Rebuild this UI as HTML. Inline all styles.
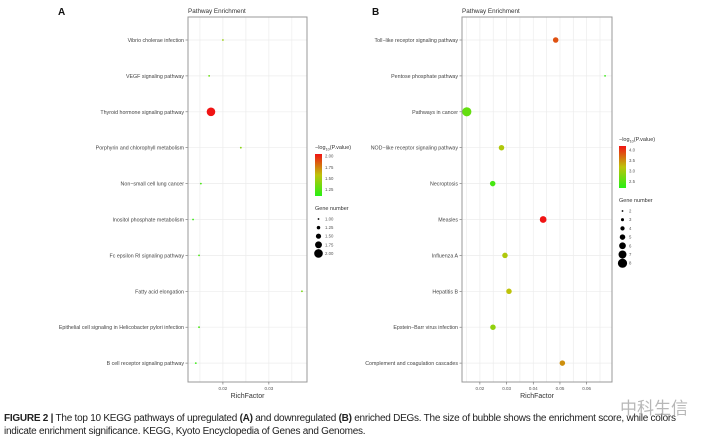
<!DOCTYPE html>
<html><head><meta charset="utf-8">
<style>
body{margin:0;background:#fff;width:710px;height:444px;overflow:hidden;font-family:"Liberation Sans","Noto Sans CJK SC",sans-serif}
svg{position:absolute;left:0;top:0}
.cap{position:absolute;left:4px;top:412px;width:704px;font-size:10px;line-height:13px;color:#222;letter-spacing:-0.25px}
</style></head><body>
<svg id="chart" width="710" height="444"></svg>
<div class="cap"><b>FIGURE 2 |</b> The top 10 KEGG pathways of upregulated <b>(A)</b> and downregulated <b>(B)</b> enriched DEGs. The size of bubble shows the enrichment score, while colors indicate enrichment significance. KEGG, Kyoto Encyclopedia of Genes and Genomes.</div>
<div style="position:absolute;left:620px;top:394px;font-size:17px;color:#9a9a9a;opacity:.7">中科生信</div>
<script>
const catsA=["Vibrio cholerae infection","VEGF signaling pathway","Thyroid hormone signaling pathway","Porphyrin and chlorophyll metabolism","Non−small cell lung cancer","Inositol phosphate metabolism","Fc epsilon RI signaling pathway","Fatty acid elongation","Epithelial cell signaling in Helicobacter pylori infection","B cell receptor signaling pathway"];
const richA=[0.0200,0.0170,0.0174,0.0239,0.0152,0.0135,0.0148,0.0372,0.0148,0.0141];
const pA=[1.45,1.3,2.05,1.4,1.2,1.15,1.2,1.35,1.2,1.15];
const genesA=[1,1,2,1,1,1,1,1,1,1];
const ticksA=[0.02,0.03];
const colTicksA=[2.00,1.75,1.50,1.25];
const sizeTicksA=[1.00,1.25,1.50,1.75,2.00];

const catsB=["Toll−like receptor signaling pathway","Pentose phosphate pathway","Pathways in cancer","NOD−like receptor signaling pathway","Necroptosis","Measles","Influenza A","Hepatitis B","Epstein−Barr virus infection","Complement and coagulation cascades"];
const richB=[0.0484,0.0669,0.0151,0.0281,0.0248,0.0437,0.0294,0.0309,0.0249,0.0509];
const pB=[3.85,2.3,2.6,3.1,2.4,4.2,3.1,3.2,2.9,3.5];
const genesB=[5,2,8,5,5,6,5,5,5,5];
const ticksB=[0.02,0.03,0.04,0.05,0.06];
const colTicksB=[4.0,3.5,3.0,2.5];
const sizeTicksB=[2,3,4,5,6,7,8];

const NS="http://www.w3.org/2000/svg";
const svg=document.getElementById('chart');
function mk(tag,attrs,parent){const e=document.createElementNS(NS,tag);for(const k in attrs)e.setAttribute(k,attrs[k]);(parent||svg).appendChild(e);return e;}
function txt(s,x,y,size,anchor,parent,fill){const t=mk('text',{x:x,y:y,'font-size':size,'text-anchor':anchor||'start',fill:fill||'#444','font-family':'Liberation Sans, sans-serif'},parent);t.textContent=s;return t;}
function lerp(a,b,t){return Math.round(a+(b-a)*t);}
function colorOf(v,lo,hi){let t=Math.max(0,Math.min(1,(v-lo)/(hi-lo)));
  if(t<0.5){const u=t/0.5;return `rgb(${lerp(40,190,u)},${lerp(240,195,u)},${lerp(20,10,u)})`;}
  const u=(t-0.5)/0.5;return `rgb(${lerp(190,240,u)},${lerp(195,20,u)},${lerp(10,20,u)})`;}

function panel(cfg){
  const g=mk('g',{});
  
  
  const L=cfg.x0,R=cfg.x1,T=17,B=382;
  const xs=v=>L+(v-cfg.dmin)/(cfg.dmax-cfg.dmin)*(R-L);
  const ys=i=>40+i*35.9;
  const rs=n=>cfg.rmin+(n-cfg.smin)/(cfg.smax-cfg.smin)*(cfg.rmax-cfg.rmin);
  const lbl=txt(cfg.letter,cfg.letterX,15,10,'start',g,'#111');lbl.setAttribute('font-weight','bold');
  
  const tt=txt('Pathway Enrichment',L,13,6.3,'start',g,'#333');
  
  const step=cfg.ticks[1]-cfg.ticks[0];
  for(let v=cfg.ticks[0]-step*1.5;v<cfg.dmax;v+=step/2){if(v<cfg.dmin)continue;
    const gl=mk('line',{x1:xs(v),x2:xs(v),y1:T,y2:B,stroke:'#ececec','stroke-width':0.7},g);
    }
  cfg.cats.forEach((c,i)=>{
    const gl=mk('line',{x1:L,x2:R,y1:ys(i),y2:ys(i),stroke:'#ececec','stroke-width':0.7},g);
    
    const t=txt(c,L-4,ys(i)+2,5.3,'end',g,'#444');
    
    mk('line',{x1:L-2.5,x2:L,y1:ys(i),y2:ys(i),stroke:'#666','stroke-width':0.6},g);
  });
  const box=mk('rect',{x:L,y:T,width:R-L,height:B-T,fill:'none',stroke:'#999','stroke-width':1},g);
  
  cfg.ticks.forEach(v=>{
    mk('line',{x1:xs(v),x2:xs(v),y1:B,y2:B+2.5,stroke:'#666','stroke-width':0.6},g);
    const t=txt(v.toFixed(2),xs(v),B+8,4.5,'middle',g,'#555');
    
  });
  const xt=txt('RichFactor',(L+R)/2,B+16,7,'middle',g,'#333');
  
  cfg.rich.forEach((v,i)=>{
    const c=mk('circle',{cx:xs(v),cy:ys(i),r:rs(cfg.genes[i]),fill:colorOf(cfg.p[i],cfg.cmin,cfg.cmax)},g);
    
    
  });
  const lx=cfg.lx,ly=cfg.ly;
  const lt=txt('−log',lx,ly,5.5,'start',g,'#333');
  
  const ts=mk('tspan',{'font-size':3.8,dy:1.5},lt);ts.textContent='10';
  const ts2=mk('tspan',{dy:-1.5},lt);ts2.textContent='(P.value)';
  const gid='grad'+cfg.letter;
  const defs=mk('defs',{},g);const gr=mk('linearGradient',{id:gid,x1:0,y1:1,x2:0,y2:0},defs);
  for(let k=0;k<=10;k++){mk('stop',{offset:k/10,'stop-color':colorOf(cfg.cbarLo+(cfg.cbarHi-cfg.cbarLo)*k/10,cfg.cmin,cfg.cmax)},gr);}
  const bar=mk('rect',{x:lx,y:ly+5,width:7,height:cfg.barH,fill:`url(#${gid})`},g);
  
  const by=v=>ly+5+cfg.barH*(1-(v-cfg.cbarLo)/(cfg.cbarHi-cfg.cbarLo));
  cfg.colTicks.forEach(v=>{
    const t=txt(v.toFixed(cfg.colDec),lx+10,by(v)+1.5,4.3,'start',g,'#555');
    
  });
  const gy=ly+cfg.barH+19;
  const st=txt('Gene number',lx,gy,5.5,'start',g,'#333');
  
  cfg.sizeTicks.forEach((n,k)=>{
    const yy=gy+9+k*cfg.sizeStep;
    const c=mk('circle',{cx:lx+3.5,cy:yy,r:rs(n),fill:'#000'},g);
    
    const t=txt(cfg.sizeDec?n.toFixed(2):String(n),lx+10,yy+1.5,4.3,'start',g,'#555');
    
  });
}
panel({name:'panel-a-upregulated',letter:'A',letterX:58,x0:188,x1:307,dmin:0.0124,dmax:0.0383,cats:catsA,rich:richA,p:pA,genes:genesA,ticks:ticksA,
  rmin:0.9,rmax:4.3,smin:1,smax:2,cmin:1.1,cmax:2.05,cbarLo:1.1,cbarHi:2.05,barH:42,colTicks:colTicksA,colDec:2,lx:315,ly:149,sizeTicks:sizeTicksA,sizeStep:8.6,sizeDec:true});
panel({name:'panel-b-downregulated',letter:'B',letterX:372,x0:462,x1:612,dmin:0.0133,dmax:0.0695,cats:catsB,rich:richB,p:pB,genes:genesB,ticks:ticksB,
  rmin:0.9,rmax:4.6,smin:2,smax:8,cmin:2.2,cmax:4.2,cbarLo:2.2,cbarHi:4.2,barH:42,colTicks:colTicksB,colDec:1,lx:619,ly:141,sizeTicks:sizeTicksB,sizeStep:8.7,sizeDec:false});
</script>
</body></html>
